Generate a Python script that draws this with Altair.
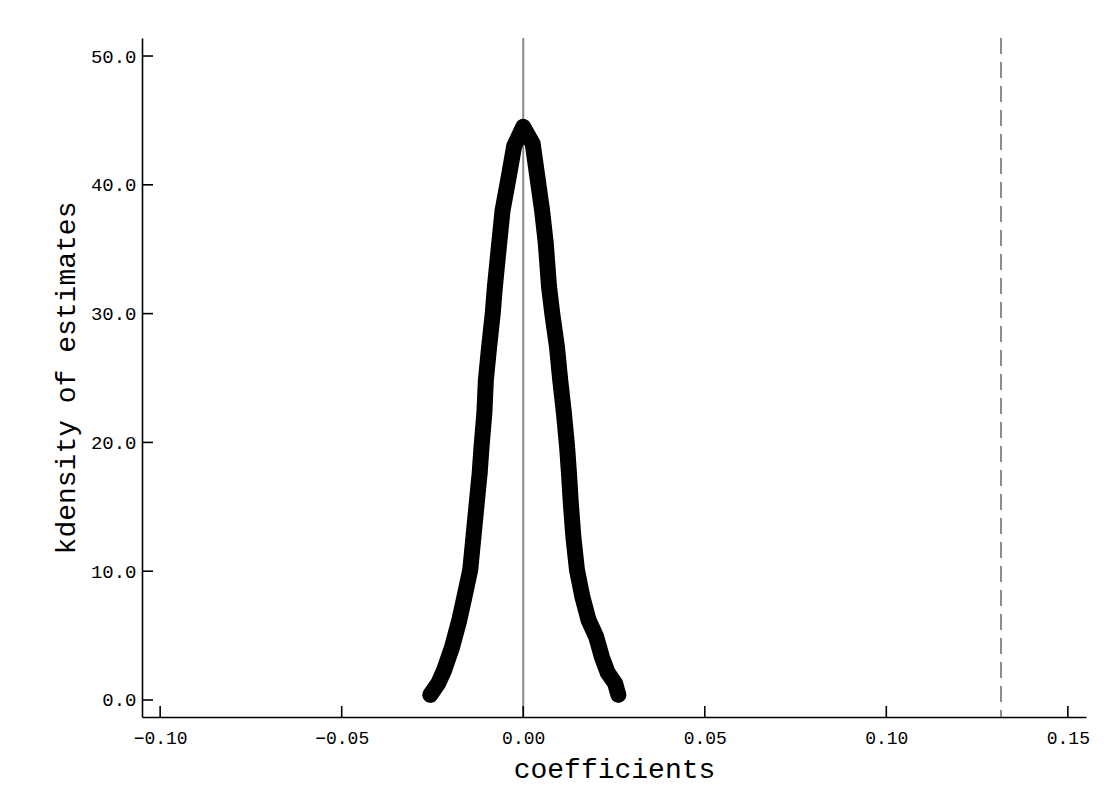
import altair as alt
import pandas as pd

# Kernel density of placebo estimates
coef = [-0.0256, -0.0234, -0.0218, -0.0196, -0.0176, -0.0162, -0.0146, -0.0137,
        -0.0128, -0.0120, -0.0115, -0.0107, -0.0103, -0.0094, -0.0084, -0.0078,
        -0.0066, -0.0057, -0.0040, -0.0025, 0.0000,
        0.0026, 0.0039, 0.0052, 0.0062, 0.0071, 0.0080, 0.0093, 0.0102, 0.0112,
        0.0121, 0.0126, 0.0131, 0.0138, 0.0148, 0.0163, 0.0180, 0.0201, 0.0217,
        0.0233, 0.0253, 0.0262]
dens = [0.4, 1.3, 2.3, 4.1, 6.2, 8.0, 10.1, 12.7,
        15.3, 17.6, 19.6, 22.3, 24.8, 27.4, 30.0, 32.1,
        35.5, 38.0, 40.6, 43.0, 44.5,
        43.2, 40.6, 38.0, 35.5, 32.1, 30.0, 27.4, 24.8, 22.3,
        19.6, 17.6, 15.3, 12.7, 10.1, 8.0, 6.2, 4.9, 3.3,
        2.1, 1.3, 0.4]

x_ticks = [-0.10, -0.05, 0.00, 0.05, 0.10, 0.15]
y_ticks = [0, 10, 20, 30, 40, 50]
zero_line = [0.0]
true_estimate = [0.1316]

x_domain = [-0.105, 0.155]
y_domain = [-1.32, 51.4]

W, H = 944, 679
FONT = "Liberation Mono"

df = pd.DataFrame({"coef": coef, "dens": dens, "idx": list(range(len(coef)))})
xt = pd.DataFrame({"x": x_ticks})
yt = pd.DataFrame({"y": y_ticks})

xs = alt.Scale(domain=x_domain, nice=False, zero=False)
ys = alt.Scale(domain=y_domain, nice=False, zero=False)

x_axis = alt.Axis(values=x_ticks, format=".2f", tickSize=0, labelPadding=12,
                  labelFontSize=18, labelFont=FONT, labelColor="black",
                  title="coefficients", titleFont=FONT, titleFontSize=28,
                  titleFontWeight="normal", titleColor="black", titlePadding=8,
                  domainColor="black", domainWidth=1.6, grid=False)
y_axis = alt.Axis(values=y_ticks, format=".1f", tickSize=0, labelPadding=6,
                  labelFontSize=19, labelFont=FONT, labelColor="black",
                  title="kdensity of estimates", titleFont=FONT, titleFontSize=28,
                  titleFontWeight="normal", titleColor="black", titlePadding=10,
                  domainColor="black", domainWidth=1.6, grid=False)

base = alt.Chart(df)

curve = base.mark_line(color="black", strokeWidth=16, strokeCap="round",
                       strokeJoin="round").encode(
    x=alt.X("coef:Q", scale=xs, axis=x_axis),
    y=alt.Y("dens:Q", scale=ys, axis=y_axis),
    order="idx:Q",
)
dots = base.mark_circle(color="black", opacity=1, size=220).encode(
    x=alt.X("coef:Q", scale=xs),
    y=alt.Y("dens:Q", scale=ys),
)

vline0 = alt.Chart(pd.DataFrame({"x": zero_line})).mark_rule(
    color="#8a8a8a", strokeWidth=2).encode(x=alt.X("x:Q", scale=xs))
vline1 = alt.Chart(pd.DataFrame({"x": true_estimate})).mark_rule(
    color="#8a8a8a", strokeWidth=2, strokeDash=[16, 8]).encode(x=alt.X("x:Q", scale=xs))

xticks = alt.Chart(xt).mark_rule(color="black", strokeWidth=1.6).encode(
    x=alt.X("x:Q", scale=xs), y=alt.value(H), y2=alt.value(H - 11))
yticks = alt.Chart(yt).mark_rule(color="black", strokeWidth=1.6).encode(
    y=alt.Y("y:Q", scale=ys), x=alt.value(0), x2=alt.value(11))

chart = alt.layer(vline0, vline1, xticks, yticks, curve, dots).properties(
    width=W, height=H,
    autosize=alt.AutoSizeParams(type="none"),
    padding={"left": 134, "top": 30, "right": 14, "bottom": 80},
    background="white",
).configure_view(strokeWidth=0)

chart.save("out.html", embed_options={"renderer": "svg", "actions": False})
